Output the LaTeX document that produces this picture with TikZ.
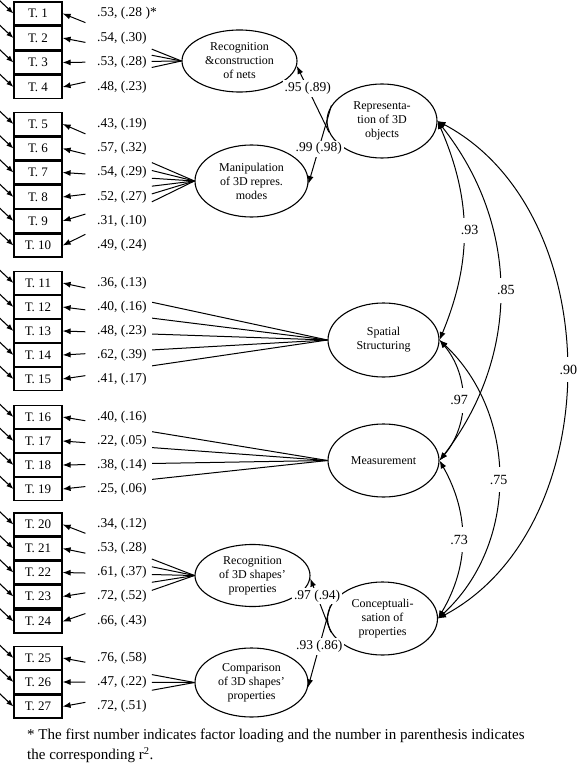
\documentclass[tikz,border=0pt]{standalone}
\usepackage{fontspec}
\setmainfont{Liberation Serif}
\usetikzlibrary{shapes.geometric,arrows.meta,calc}

\tikzset{
  task/.style={draw, line width=1.2pt, minimum width=48pt, minimum height=23pt,
    inner sep=0pt, font=\fontsize{13}{15}\selectfont},
  latent/.style={draw, ellipse, line width=1.1pt, align=center, inner sep=0pt,
    font=\fontsize{12}{14}\selectfont},
  loadlbl/.style={anchor=west, inner sep=0pt, font=\fontsize{13.5}{15}\selectfont},
  ldline/.style={line width=1pt},
  ldarr/.style={line width=1pt, -{Latex[length=8pt,width=6pt]}},
  errarr/.style={line width=1.1pt, -{Latex[length=7pt,width=5.5pt]}},
  covarr/.style={line width=1pt, {Latex[length=8pt,width=6pt]}-{Latex[length=8pt,width=6pt]}},
  covlbl/.style={fill=white, inner xsep=1pt, inner ysep=8pt, font=\fontsize{14}{16}\selectfont},
  reglbl/.style={fill=white, inner sep=2pt, font=\fontsize{13.5}{15}\selectfont},
  foot/.style={anchor=west, inner sep=0pt, font=\fontsize{15}{17}\selectfont}
}

\begin{document}
\begin{tikzpicture}[x=1pt,y=-1pt]

  % Fix the size of the picture
  \useasboundingbox (0,0) rectangle (577,767);

  % First order factors
  \node[latent, minimum width=115pt, minimum height=62pt] (nets) at (239.5,61)
    {Recognition\\\&construction\\of nets};
  \node[latent, minimum width=113pt, minimum height=72pt] (manip) at (251.5,181)
    {Manipulation\\of 3D repres.\\modes};
  \node[latent, minimum width=111pt, minimum height=74pt] (spat) at (383.5,340)
    {Spatial\\Structuring};
  \node[latent, minimum width=111pt, minimum height=73pt] (meas) at (383.5,460.5)
    {Measurement};
  \node[latent, minimum width=115pt, minimum height=62pt] (recog) at (252.5,575.5)
    {Recognition\\of 3D shapes’\\properties};
  \node[latent, minimum width=113pt, minimum height=69pt] (compar) at (251.5,682.5)
    {Comparison\\of 3D shapes’\\properties};

  % Second order factors
  \node[latent, minimum width=110pt, minimum height=74pt] (rep) at (382,121)
    {Representa-\\tion of 3D\\objects};
  \node[latent, minimum width=110pt, minimum height=73pt] (concept) at (382.5,618.5)
    {Conceptuali-\\sation of\\properties};

  % One task: box, error arrow, loading label and loading arrow
  % the loading line is broken between x=152 and x=85
  \def\taskrow{%
    \node[task] (t\n) at (38,\y) {T. \n};
    \node[loadlbl] (l\n) at (97,\y) {\val};
    \draw[errarr] (t\n.west) ++(-15,-14) -- (t\n.west);
    \draw[ldline] (\fac.west) -- ($(\fac.west)!\ga!(t\n.east)$);
    \draw[ldarr] ($(\fac.west)!\gb!(t\n.east)$) -- (t\n.east);
  }

  % Tasks T. 1 - T. 4
  \def\fac{nets} \def\ga{0.25} \def\gb{0.808}
  \foreach \n/\y/\val in {1/13.5/{.53, (.28 )*}, 2/38/{.54, (.30)},
    3/62.5/{.53, (.28)}, 4/87/{.48, (.23)}}{\taskrow}

  % Tasks T. 5 - T. 10
  \def\fac{manip} \def\ga{0.323} \def\gb{0.827}
  \foreach \n/\y/\val in {5/124/{.43, (.19)}, 6/148.5/{.57, (.32)},
    7/172.5/{.54, (.29)}, 8/197/{.52, (.27)}, 9/221/{.31, (.10)},
    10/245.5/{.49, (.24)}}{\taskrow}

  % Tasks T. 11 - T. 15
  \def\fac{spat} \def\ga{0.662} \def\gb{0.914}
  \foreach \n/\y/\val in {11/283/{.36, (.13)}, 12/307/{.40, (.16)},
    13/331/{.48, (.23)}, 14/355/{.62, (.39)}, 15/379/{.41, (.17)}}{\taskrow}

  % Tasks T. 16 - T. 19
  \def\fac{meas}
  \foreach \n/\y/\val in {16/417/{.40, (.16)}, 17/441/{.22, (.05)},
    18/465/{.38, (.14)}, 19/489/{.25, (.06)}}{\taskrow}

  % Tasks T. 20 - T. 24
  \def\fac{recog} \def\ga{0.323} \def\gb{0.827}
  \foreach \n/\y/\val in {20/524.5/{.34, (.12)}, 21/548.5/{.53, (.28)},
    22/572.5/{.61, (.37)}, 23/596.5/{.72, (.52)}, 24/621.5/{.66, (.43)}}{\taskrow}

  % Tasks T. 25 - T. 27
  \def\fac{compar}
  \foreach \n/\y/\val in {25/658/{.76, (.58)}, 26/682/{.47, (.22)},
    27/706.5/{.72, (.51)}}{\taskrow}

  % Second order loadings
  \draw[ldarr] (rep.192) -- node[reglbl, pos=0.66] {.95 (.89)} (nets.355);
  \draw[ldarr] (rep.163) -- node[reglbl, pos=0.55] {.99 (.98)} (manip.357);
  \draw[ldarr] (concept.195) -- node[reglbl, pos=0.67] {.97 (.94)} (recog.357);
  \draw[ldarr] (concept.166) -- node[reglbl, pos=0.5] {.93 (.86)} (compar.355);

  % Correlations between the factors
  \draw[covarr] (rep.east) to[bend left=23] node[covlbl, xshift=6pt] {.93} (spat.east);
  \draw[covarr] (rep.east) to[bend left=38] node[covlbl, xshift=6pt] {.85} (meas.east);
  \draw[covarr] (rep.east) to[bend left=62] node[covlbl, xshift=2pt] {.90} (concept.east);
  \draw[covarr] (spat.east) to[bend left=40] node[covlbl, xshift=-3pt] {.97} (meas.east);
  \draw[covarr] (spat.east) to[bend left=47] node[covlbl] {.75} (concept.east);
  \draw[covarr] (meas.east) to[bend left=30] node[covlbl, xshift=-3pt] {.73} (concept.east);

  % Footnote
  \node[foot] (n1) at (27,736) {* The first number indicates factor loading and the number in parenthesis indicates};
  \node[foot] (n2) at (27,755) {the corresponding r\textsuperscript{2}.};

\end{tikzpicture}
\end{document}
